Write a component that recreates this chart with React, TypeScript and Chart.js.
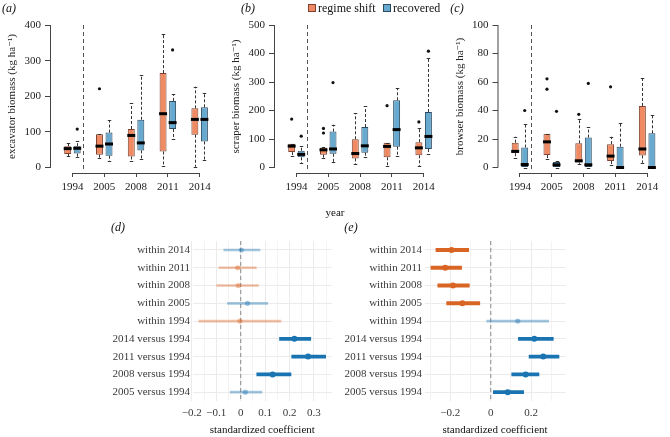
import React, { useEffect, useRef } from 'react';
import { Chart, registerables } from 'chart.js';

Chart.register(...registerables);

// ---------------- data ----------------
const years = ['1994', '2005', '2008', '2011', '2014'];
const groupNames = ['regime shift', 'recovered'];

// box statistics: [lower whisker, Q1, median, Q3, upper whisker]
const excavatorRegime = [
  [31, 38, 53, 60, 69],
  [26, 36, 60, 93, 93],
  [18, 31, 90, 108, 180],
  [5, 45, 151, 265, 375],
  [2, 92, 135, 166, 227],
];
const excavatorRegimeOutliers = [[], [221], [], [], []];
const excavatorRecovered = [
  [29, 39, 54, 60, 73],
  [17, 33, 66, 98, 132],
  [23, 48, 69, 134, 260],
  [80, 108, 126, 187, 206],
  [21, 73, 135, 169, 208],
];
const excavatorRecoveredOutliers = [[108], [], [], [330], []];
const excavatorTicks = [0, 100, 200, 300, 400];

const scraperRegime = [
  [41, 54, 75, 83, 83],
  [33, 45, 62, 69, 72],
  [11, 32, 49, 99, 190],
  [5, 36, 74, 87, 87],
  [5, 43, 69, 89, 137],
];
const scraperRegimeOutliers = [[170], [121, 137], [], [217], [160]];
const scraperRecovered = [
  [16, 36, 46, 59, 75],
  [19, 48, 65, 126, 150],
  [36, 52, 76, 142, 215],
  [42, 73, 133, 236, 278],
  [48, 65, 109, 195, 385],
];
const scraperRecoveredOutliers = [[110], [298], [], [], [408]];
const scraperTicks = [0, 100, 200, 300, 400, 500];

const browserRegime = [
  [6.8, 10, 11.3, 17.4, 21.6],
  [6.3, 8.7, 18, 23.7, 23.7],
  [2.6, 3.5, 4.7, 17, 34.3],
  [1.6, 4.5, 8, 16.4, 21.6],
  [3.3, 8.5, 13, 43.2, 62.7],
];
const browserRegimeOutliers = [[], [55, 62.2], [37.3], [56.6], []];
const browserRecovered = [
  [0, 0, 2.1, 14, 30.8],
  [0, 0, 1.9, 3.8, 4.5],
  [0, 0, 1.9, 21, 28.4],
  [0, 0, 0, 14.6, 31.5],
  [0, 0, 0, 24, 36.6],
];
const browserRecoveredOutliers = [[40], [39.4], [59], [], []];
const browserTicks = [0, 20, 40, 60, 80, 100];

const coefRows = [
  'within 2014',
  'within 2011',
  'within 2008',
  'within 2005',
  'within 1994',
  '2014 versus 1994',
  '2011 versus 1994',
  '2008 versus 1994',
  '2005 versus 1994',
];
const panelDEstimate = [0.003, -0.012, -0.01, 0.028, -0.003, 0.22, 0.276, 0.131, 0.019];
const panelDLower = [-0.069, -0.089, -0.098, -0.054, -0.171, 0.159, 0.209, 0.066, -0.043];
const panelDUpper = [0.079, 0.064, 0.073, 0.111, 0.165, 0.287, 0.348, 0.206, 0.087];
const panelDTicks = [-0.2, -0.1, 0, 0.1, 0.2, 0.3];

const panelEEstimate = [-0.194, -0.225, -0.187, -0.14, 0.134, 0.216, 0.26, 0.173, 0.084];
const panelELower = [-0.271, -0.296, -0.262, -0.218, -0.02, 0.137, 0.19, 0.104, 0.013];
const panelEUpper = [-0.109, -0.144, -0.106, -0.054, 0.287, 0.31, 0.338, 0.239, 0.163];
const panelETicks = [-0.2, 0, 0.2];

// ---------------- styling ----------------
const SERIF = '"Liberation Serif", "DejaVu Serif", serif';
const BOX_FILL = ['#EF8A62', '#67A9CF'];
const BOX_BORDER = ['#7d4330', '#2b4a60'];
const POS_RGB = '27,116,178';
const NEG_RGB = '217,101,36';
const SEPARATOR = 1.34;

type BoxGeom = {
  canvasLeft: number;
  canvasWidth: number;
  plotLeft: number;
  titlePad: number;
};

const TOP_CANVAS_H = 200;
const PLOT_TOP = 20;
const PLOT_BOTTOM = 173;
const ZERO_PX = 167.5;
const TOPTICK_PX = 25;
const GROUP_SPACING = 31.8;
const X_MIN = 0.31;

function makeBoxChart(
  canvas: HTMLCanvasElement,
  regime: number[][],
  regimeOut: number[][],
  recovered: number[][],
  recoveredOut: number[][],
  ticks: number[],
  title: string,
  g: BoxGeom
) {
  const top = ticks[ticks.length - 1];
  const ppu = (ZERO_PX - TOPTICK_PX) / top;
  const yMin = -(PLOT_BOTTOM - ZERO_PX) / ppu;
  const yMax = (ZERO_PX - PLOT_TOP) / ppu;
  const plotRight = g.canvasLeft + g.canvasWidth;
  const xMax = X_MIN + (plotRight - g.plotLeft) / GROUP_SPACING;
  const stats = [regime, recovered];
  const outs = [regimeOut, recoveredOut];

  const plugin = {
    id: 'boxExtras',
    afterDatasetsDraw(chart: any) {
      const ctx = chart.ctx;
      const xs = chart.scales.x;
      const ys = chart.scales.y;
      const area = chart.chartArea;
      ctx.save();
      // separator
      ctx.strokeStyle = '#555';
      ctx.lineWidth = 1;
      ctx.setLineDash([4, 3]);
      const sx = Math.round(xs.getPixelForValue(SEPARATOR)) + 0.5;
      ctx.beginPath();
      ctx.moveTo(sx, ys.getPixelForValue(top));
      ctx.lineTo(sx, area.bottom - 1);
      ctx.stroke();
      // whiskers, medians, outliers
      for (let d = 0; d < 2; d++) {
        const meta = chart.getDatasetMeta(d);
        meta.data.forEach((el: any, j: number) => {
          const s = stats[d][j];
          const cx = Math.round(el.x) + 0.5;
          const w = el.width;
          ctx.strokeStyle = '#333';
          ctx.lineWidth = 1;
          ctx.setLineDash([3, 2]);
          ctx.beginPath();
          ctx.moveTo(cx, ys.getPixelForValue(s[3]));
          ctx.lineTo(cx, ys.getPixelForValue(s[4]));
          ctx.moveTo(cx, ys.getPixelForValue(s[1]));
          ctx.lineTo(cx, ys.getPixelForValue(s[0]));
          ctx.stroke();
          ctx.setLineDash([]);
          ctx.beginPath();
          const capHalf = w * 0.25;
          const yHi = Math.round(ys.getPixelForValue(s[4])) + 0.5;
          const yLo = Math.round(ys.getPixelForValue(s[0])) + 0.5;
          ctx.moveTo(cx - capHalf, yHi);
          ctx.lineTo(cx + capHalf, yHi);
          ctx.moveTo(cx - capHalf, yLo);
          ctx.lineTo(cx + capHalf, yLo);
          ctx.stroke();
          // median
          ctx.strokeStyle = '#000';
          ctx.lineWidth = 3;
          ctx.beginPath();
          const ym = ys.getPixelForValue(s[2]);
          ctx.moveTo(el.x - w / 2 - 0.5, ym);
          ctx.lineTo(el.x + w / 2 + 0.5, ym);
          ctx.stroke();
          // outliers
          ctx.fillStyle = '#111';
          outs[d][j].forEach((v: number) => {
            ctx.beginPath();
            ctx.arc(el.x, ys.getPixelForValue(v), 1.6, 0, Math.PI * 2);
            ctx.fill();
          });
        });
      }
      // axis lines (R style)
      ctx.strokeStyle = '#444';
      ctx.lineWidth = 1;
      ctx.beginPath();
      const ay = Math.round(area.bottom) + 0.5;
      ctx.moveTo(xs.getPixelForValue(1), ay);
      ctx.lineTo(xs.getPixelForValue(years.length), ay);
      ctx.moveTo(area.left, ys.getPixelForValue(0));
      ctx.lineTo(area.left, ys.getPixelForValue(top));
      ctx.stroke();
      ctx.restore();
    },
  };

  return new Chart(canvas, {
    type: 'bar',
    data: {
      datasets: [0, 1].map((d) => ({
        label: groupNames[d],
        data: stats[d].map((s, i) => ({ x: i + 1, y: [s[1], s[3]] })),
        backgroundColor: BOX_FILL[d],
        borderColor: BOX_BORDER[d],
        borderWidth: 1,
        borderSkipped: false,
        categoryPercentage: 0.6,
        barPercentage: 0.73,
      })),
    },
    options: {
      animation: false,
      responsive: false,
      events: [],
      layout: {
        padding: { left: 0, right: 0, top: PLOT_TOP, bottom: 0 },
      },
      plugins: { legend: { display: false }, tooltip: { enabled: false } },
      scales: {
        x: {
          type: 'linear',
          min: X_MIN,
          max: xMax,
          offset: false,
          afterBuildTicks: (s: any) => {
            s.ticks = years.map((_, i) => ({ value: i + 1 }));
          },
          afterFit: (s: any) => {
            s.height = TOP_CANVAS_H - PLOT_BOTTOM;
          },
          ticks: {
            autoSkip: false,
            maxRotation: 0,
            padding: 3.4,
            color: '#222',
            font: { family: SERIF, size: 11 },
            callback: (v: any) => years[Math.round(v) - 1],
          },
          grid: {
            offset: false,
            drawOnChartArea: false,
            drawTicks: true,
            tickLength: 4,
            color: '#444',
          },
          border: { display: false },
        },
        y: {
          type: 'linear',
          min: yMin,
          max: yMax,
          afterBuildTicks: (s: any) => {
            s.ticks = ticks.map((v) => ({ value: v }));
          },
          afterFit: (s: any) => {
            s.width = g.plotLeft - g.canvasLeft;
          },
          ticks: {
            padding: 4,
            color: '#222',
            font: { family: SERIF, size: 11 },
          },
          grid: {
            drawOnChartArea: false,
            drawTicks: true,
            tickLength: 5.5,
            color: '#444',
          },
          border: { display: false },
          title: {
            display: true,
            text: title,
            color: '#222',
            font: { family: SERIF, size: 11 },
            padding: { top: g.titlePad, bottom: 0 },
          },
        },
      },
    } as any,
    plugins: [plugin],
  });
}

type CoefGeom = {
  canvasLeft: number;
  canvasWidth: number;
  plotLeft: number;
  plotRight: number;
  zeroPx: number;
  ppu: number;
};

const COEF_CANVAS_TOP = 232;
const COEF_CANVAS_H = 205;
const COEF_TOP = 238.25;
const COEF_BOTTOM = 401.05;

function fmtCoef(v: number) {
  if (Math.abs(v) < 1e-9) return '0';
  return (v < 0 ? '\u2212' : '') + String(Math.abs(v));
}

function makeCoefChart(
  canvas: HTMLCanvasElement,
  est: number[],
  lo: number[],
  hi: number[],
  majors: number[],
  g: CoefGeom
) {
  const xMin = -(g.zeroPx - g.plotLeft) / g.ppu;
  const xMax = (g.plotRight - g.zeroPx) / g.ppu;
  const sig = est.map((_, i) => lo[i] > 0 || hi[i] < 0);
  const colorOf = (i: number) => {
    const rgb = est[i] > 0 ? POS_RGB : NEG_RGB;
    return sig[i] ? `rgb(${rgb})` : `rgba(${rgb},0.4)`;
  };
  const colors = est.map((_, i) => colorOf(i));
  const step = majors[1] - majors[0];
  const gridVals: number[] = [];
  for (let k = -1; k <= majors.length * 2; k++) {
    const v = Math.round((majors[0] + (k * step) / 2) * 10000) / 10000;
    if (v >= xMin - 0.01 && v <= xMax) gridVals.push(v);
  }
  const isMajor = (v: number) => majors.some((m) => Math.abs(m - v) < 1e-9);

  const plugin = {
    id: 'zeroLine',
    beforeDatasetsDraw(chart: any) {
      const ctx = chart.ctx;
      const area = chart.chartArea;
      const x = chart.scales.x.getPixelForValue(0);
      ctx.save();
      ctx.strokeStyle = '#a0a0a0';
      ctx.lineWidth = 1.3;
      ctx.setLineDash([4, 3]);
      ctx.beginPath();
      ctx.moveTo(x, area.top);
      ctx.lineTo(x, area.bottom);
      ctx.stroke();
      ctx.restore();
    },
  };

  return new Chart(canvas, {
    type: 'bar',
    data: {
      labels: coefRows,
      datasets: [
        {
          type: 'scatter',
          label: 'estimate',
          order: 0,
          data: est.map((v, i) => ({ x: v, y: coefRows[i] })),
          pointRadius: est.map((_, i) => (sig[i] ? 3 : 2.6)),
          pointBackgroundColor: colors,
          pointBorderWidth: 0,
        },
        {
          type: 'bar',
          label: 'interval',
          order: 1,
          grouped: false,
          barThickness: 3.2,
          data: est.map((_, i) => (sig[i] ? [lo[i], hi[i]] : null)),
          backgroundColor: colors,
          borderWidth: 0,
        },
        {
          type: 'bar',
          label: 'interval (n.s.)',
          order: 1,
          grouped: false,
          barThickness: 2,
          data: est.map((_, i) => (!sig[i] ? [lo[i], hi[i]] : null)),
          backgroundColor: colors,
          borderWidth: 0,
        },
      ],
    },
    options: {
      animation: false,
      responsive: false,
      events: [],
      indexAxis: 'y',
      layout: {
        padding: {
          left: 0,
          right: g.canvasLeft + g.canvasWidth - g.plotRight,
          top: COEF_TOP - COEF_CANVAS_TOP,
          bottom: 0,
        },
      },
      plugins: { legend: { display: false }, tooltip: { enabled: false } },
      scales: {
        x: {
          type: 'linear',
          min: xMin,
          max: xMax,
          offset: false,
          afterBuildTicks: (s: any) => {
            s.ticks = gridVals.map((v) => ({ value: v }));
          },
          afterFit: (s: any) => {
            s.height = COEF_CANVAS_TOP + COEF_CANVAS_H - COEF_BOTTOM;
          },
          ticks: {
            autoSkip: false,
            maxRotation: 0,
            padding: 5,
            color: '#3a3a3a',
            font: { family: SERIF, size: 11 },
            callback: (v: any) => (isMajor(v) ? fmtCoef(v) : ''),
          },
          grid: {
            offset: false,
            drawTicks: false,
            color: '#EBEBEB',
            lineWidth: (c: any) => (c.tick && isMajor(c.tick.value) ? 1 : 0.6),
          },
          border: { display: false },
          title: {
            display: true,
            text: 'standardized coefficient',
            color: '#111',
            font: { family: SERIF, size: 11 },
            padding: { top: 0, bottom: 0 },
          },
        },
        y: {
          type: 'category',
          offset: true,
          afterFit: (s: any) => {
            s.width = g.plotLeft - g.canvasLeft;
          },
          ticks: {
            autoSkip: false,
            padding: 2.5,
            color: '#3a3a3a',
            font: { family: SERIF, size: 11 },
          },
          grid: {
            offset: false,
            drawTicks: false,
            color: '#EBEBEB',
            lineWidth: 1,
          },
          border: { display: false },
        },
      },
    } as any,
    plugins: [plugin],
  });
}

// ---------------- components ----------------
const absText = (x: number, y: number, extra: React.CSSProperties = {}): React.CSSProperties => ({
  position: 'absolute',
  left: x,
  top: y,
  transform: 'translate(-50%, -50%)',
  fontFamily: SERIF,
  fontSize: 11,
  lineHeight: 1,
  color: '#111',
  whiteSpace: 'nowrap',
  ...extra,
});

export default function App() {
  const aRef = useRef<HTMLCanvasElement>(null);
  const bRef = useRef<HTMLCanvasElement>(null);
  const cRef = useRef<HTMLCanvasElement>(null);
  const dRef = useRef<HTMLCanvasElement>(null);
  const eRef = useRef<HTMLCanvasElement>(null);

  const geomA: BoxGeom = { canvasLeft: 0, canvasWidth: 226, plotLeft: 50.5, titlePad: 5.9 };
  const geomB: BoxGeom = { canvasLeft: 226, canvasWidth: 224, plotLeft: 274.5, titlePad: 3.9 };
  const geomC: BoxGeom = { canvasLeft: 450, canvasWidth: 220, plotLeft: 498, titlePad: 3.4 };
  const geomD: CoefGeom = { canvasLeft: 80, canvasWidth: 256, plotLeft: 192.5, plotRight: 333, zeroPx: 241, ppu: 246 };
  const geomE: CoefGeom = { canvasLeft: 336, canvasWidth: 234, plotLeft: 424.5, plotRight: 565.5, zeroPx: 490.7, ppu: 202 };

  useEffect(() => {
    const charts: Chart[] = [];
    charts.push(
      makeBoxChart(aRef.current!, excavatorRegime, excavatorRegimeOutliers, excavatorRecovered, excavatorRecoveredOutliers, excavatorTicks, 'excavator biomass (kg ha\u207B\u00B9)', geomA)
    );
    charts.push(
      makeBoxChart(bRef.current!, scraperRegime, scraperRegimeOutliers, scraperRecovered, scraperRecoveredOutliers, scraperTicks, 'scraper biomass (kg ha\u207B\u00B9)', geomB)
    );
    charts.push(
      makeBoxChart(cRef.current!, browserRegime, browserRegimeOutliers, browserRecovered, browserRecoveredOutliers, browserTicks, 'browser biomass (kg ha\u207B\u00B9)', geomC)
    );
    charts.push(makeCoefChart(dRef.current!, panelDEstimate, panelDLower, panelDUpper, panelDTicks, geomD));
    charts.push(makeCoefChart(eRef.current!, panelEEstimate, panelELower, panelEUpper, panelETicks, geomE));
    return () => charts.forEach((c) => c.destroy());
  }, []);

  const topCanvas = (g: BoxGeom): React.CSSProperties => ({
    position: 'absolute',
    left: g.canvasLeft,
    top: 0,
    width: g.canvasWidth,
    height: TOP_CANVAS_H,
    display: 'block',
  });
  const botCanvas = (g: CoefGeom): React.CSSProperties => ({
    position: 'absolute',
    left: g.canvasLeft,
    top: COEF_CANVAS_TOP,
    width: g.canvasWidth,
    height: COEF_CANVAS_H,
    display: 'block',
  });

  const sq = (x: number, fill: string, border: string): React.CSSProperties => ({
    position: 'absolute',
    left: x,
    top: 4,
    width: 6,
    height: 6,
    background: fill,
    border: `1px solid ${border}`,
  });

  return (
    <div style={{ position: 'absolute', left: 0, top: 0, width: 670, height: 437, background: '#fff', overflow: 'hidden' }}>
      <canvas ref={aRef} width={geomA.canvasWidth} height={TOP_CANVAS_H} style={topCanvas(geomA)} />
      <canvas ref={bRef} width={geomB.canvasWidth} height={TOP_CANVAS_H} style={topCanvas(geomB)} />
      <canvas ref={cRef} width={geomC.canvasWidth} height={TOP_CANVAS_H} style={topCanvas(geomC)} />
      <canvas ref={dRef} width={geomD.canvasWidth} height={COEF_CANVAS_H} style={botCanvas(geomD)} />
      <canvas ref={eRef} width={geomE.canvasWidth} height={COEF_CANVAS_H} style={botCanvas(geomE)} />

      <div style={absText(9, 8, { fontStyle: 'italic', fontSize: 12 })}>(a)</div>
      <div style={absText(248, 8, { fontStyle: 'italic', fontSize: 12 })}>(b)</div>
      <div style={absText(457, 8, { fontStyle: 'italic', fontSize: 12 })}>(c)</div>
      <div style={absText(118, 227, { fontStyle: 'italic', fontSize: 12 })}>(d)</div>
      <div style={absText(351, 227, { fontStyle: 'italic', fontSize: 12 })}>(e)</div>
      <div style={absText(335, 212)}>year</div>

      <div style={sq(308, BOX_FILL[0], BOX_BORDER[0])} />
      <div style={absText(318, 8, { transform: 'translate(0, -50%)', fontSize: 12 })}>{groupNames[0]}</div>
      <div style={sq(383, BOX_FILL[1], BOX_BORDER[1])} />
      <div style={absText(393, 8, { transform: 'translate(0, -50%)', fontSize: 12 })}>{groupNames[1]}</div>
    </div>
  );
}
